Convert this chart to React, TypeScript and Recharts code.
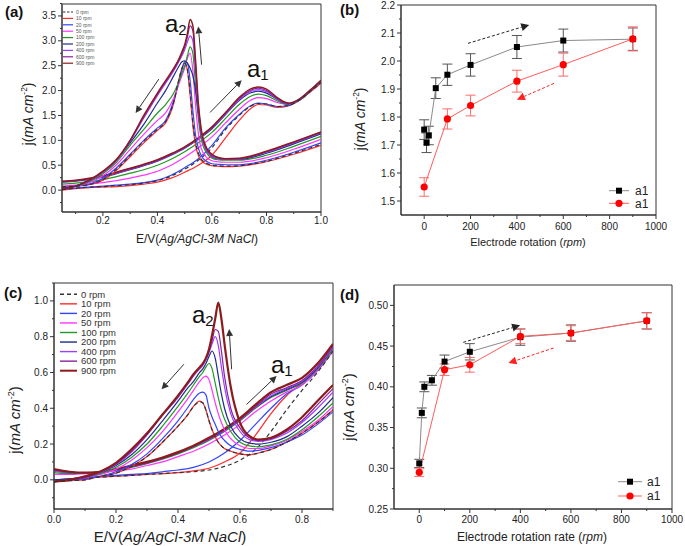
import React from 'react';
import { LineChart, Line, XAxis, YAxis, ReferenceLine, ReferenceArea, ErrorBar } from 'recharts';

const FONT = '"Liberation Sans", Arial, sans-serif';
const AXIS = '#333';
const TXT = '#222';

// series labels / colours shared by (a) and (c)
const RPM_LABELS = ['0 rpm', '10 rpm', '20 rpm', '50 rpm', '100 rpm', '200 rpm', '400 rpm', '600 rpm', '900 rpm'];
const RPM_COLORS = ['#333333', '#ff2a2a', '#3344ff', '#ff33ff', '#229922', '#1d2b8f', '#9b40ff', '#8c1f9c', '#8b1c1c'];

// (a) forward scan
const A_FWD_X = [0.05, 0.1, 0.15, 0.2, 0.25, 0.3, 0.35, 0.4, 0.45, 0.5, 0.55, 0.6, 0.65, 0.7, 0.74, 0.77, 0.8, 0.84, 0.88, 0.92, 0.96, 1.0];
const A_FWD_Y = [
  [0.01, 0.04, 0.06, 0.07, 0.09, 0.11, 0.14, 0.19, 0.28, 0.42, 0.6, 0.85, 1.22, 1.5, 1.68, 1.74, 1.73, 1.68, 1.7, 1.81, 1.98, 2.16],
  [0.0, 0.03, 0.05, 0.06, 0.07, 0.09, 0.12, 0.16, 0.24, 0.36, 0.5, 0.7, 1.05, 1.4, 1.63, 1.72, 1.71, 1.66, 1.69, 1.8, 1.97, 2.15],
  [0.02, 0.04, 0.06, 0.08, 0.1, 0.12, 0.15, 0.2, 0.3, 0.45, 0.63, 0.9, 1.25, 1.52, 1.69, 1.75, 1.73, 1.68, 1.7, 1.82, 1.99, 2.17],
  [0.08, 0.1, 0.12, 0.15, 0.19, 0.24, 0.3, 0.38, 0.5, 0.66, 0.85, 1.07, 1.35, 1.62, 1.8, 1.86, 1.84, 1.76, 1.72, 1.8, 1.98, 2.17],
  [0.12, 0.14, 0.17, 0.21, 0.27, 0.34, 0.41, 0.5, 0.62, 0.77, 0.95, 1.16, 1.44, 1.72, 1.88, 1.93, 1.9, 1.79, 1.72, 1.8, 1.98, 2.18],
  [0.16, 0.18, 0.21, 0.26, 0.33, 0.41, 0.49, 0.58, 0.7, 0.84, 1.02, 1.23, 1.52, 1.8, 1.95, 1.99, 1.95, 1.82, 1.73, 1.81, 1.99, 2.19],
  [0.16, 0.19, 0.22, 0.27, 0.34, 0.42, 0.5, 0.59, 0.71, 0.85, 1.03, 1.25, 1.53, 1.82, 1.98, 2.02, 1.98, 1.83, 1.73, 1.81, 1.99, 2.19],
  [0.17, 0.19, 0.23, 0.28, 0.35, 0.43, 0.51, 0.6, 0.72, 0.86, 1.04, 1.26, 1.55, 1.84, 2.0, 2.05, 2.0, 1.84, 1.74, 1.82, 2.0, 2.2],
  [0.18, 0.2, 0.24, 0.29, 0.36, 0.44, 0.52, 0.61, 0.73, 0.87, 1.05, 1.27, 1.56, 1.86, 2.03, 2.07, 2.03, 1.86, 1.75, 1.83, 2.01, 2.21],
];
// (a) reverse scan (stored with ascending potential)
const A_REV_X = [0.05, 0.1, 0.15, 0.2, 0.25, 0.3, 0.35, 0.4, 0.43, 0.46, 0.48, 0.49, 0.5, 0.51, 0.52, 0.53, 0.54, 0.55, 0.56, 0.58, 0.6, 0.62, 0.65, 0.7, 0.8, 0.9, 1.0];
const A_REV_Y = [
  [0.07, 0.08, 0.11, 0.21, 0.42, 0.7, 0.98, 1.22, 1.38, 1.78, 2.25, 2.45, 2.55, 2.42, 1.95, 1.35, 0.95, 0.75, 0.63, 0.54, 0.5, 0.49, 0.48, 0.49, 0.58, 0.74, 0.92],
  [0.07, 0.08, 0.11, 0.2, 0.4, 0.67, 0.95, 1.2, 1.35, 1.75, 2.25, 2.45, 2.55, 2.4, 1.9, 1.3, 0.9, 0.7, 0.6, 0.52, 0.49, 0.48, 0.47, 0.48, 0.57, 0.72, 0.9],
  [0.06, 0.08, 0.12, 0.24, 0.45, 0.72, 1.0, 1.25, 1.4, 1.8, 2.2, 2.42, 2.58, 2.55, 2.2, 1.6, 1.1, 0.85, 0.7, 0.58, 0.53, 0.52, 0.51, 0.51, 0.6, 0.76, 0.95],
  [0.05, 0.08, 0.15, 0.29, 0.51, 0.82, 1.12, 1.4, 1.55, 1.85, 2.15, 2.3, 2.45, 2.65, 2.75, 2.4, 1.7, 1.15, 0.85, 0.66, 0.59, 0.57, 0.56, 0.56, 0.65, 0.82, 1.02],
  [0.04, 0.08, 0.17, 0.33, 0.56, 0.9, 1.22, 1.55, 1.72, 1.95, 2.2, 2.35, 2.5, 2.7, 2.88, 2.75, 2.1, 1.45, 1.05, 0.75, 0.64, 0.61, 0.6, 0.6, 0.7, 0.88, 1.08],
  [0.03, 0.08, 0.19, 0.36, 0.6, 0.95, 1.32, 1.75, 2.0, 2.3, 2.5, 2.58, 2.6, 2.55, 2.45, 2.3, 2.0, 1.55, 1.15, 0.8, 0.67, 0.63, 0.62, 0.62, 0.74, 0.93, 1.13],
  [0.03, 0.08, 0.19, 0.36, 0.6, 0.98, 1.45, 1.9, 2.15, 2.4, 2.6, 2.7, 2.82, 2.98, 3.1, 3.0, 2.35, 1.6, 1.15, 0.8, 0.68, 0.64, 0.62, 0.63, 0.76, 0.95, 1.15],
  [0.03, 0.08, 0.2, 0.37, 0.61, 1.0, 1.48, 1.93, 2.18, 2.43, 2.62, 2.74, 2.88, 3.08, 3.3, 3.2, 2.5, 1.7, 1.2, 0.83, 0.7, 0.65, 0.63, 0.63, 0.77, 0.96, 1.16],
  [0.03, 0.08, 0.2, 0.38, 0.62, 1.0, 1.5, 1.95, 2.2, 2.45, 2.65, 2.78, 2.92, 3.15, 3.43, 3.3, 2.6, 1.75, 1.25, 0.85, 0.72, 0.66, 0.63, 0.64, 0.78, 0.97, 1.17],
];

// (c) forward scan
const C_FWD_X = [0, 0.05, 0.1, 0.15, 0.2, 0.25, 0.3, 0.35, 0.4, 0.45, 0.5, 0.55, 0.6, 0.65, 0.7, 0.75, 0.8, 0.85, 0.9];
const C_FWD_Y = [
  [-0.01, 0.0, 0.01, 0.015, 0.02, 0.025, 0.03, 0.035, 0.04, 0.045, 0.055, 0.075, 0.11, 0.17, 0.27, 0.39, 0.5, 0.6, 0.72],
  [-0.01, 0.0, 0.01, 0.015, 0.02, 0.025, 0.03, 0.035, 0.04, 0.05, 0.065, 0.1, 0.15, 0.25, 0.37, 0.47, 0.54, 0.62, 0.73],
  [-0.005, 0.005, 0.012, 0.02, 0.025, 0.03, 0.035, 0.045, 0.055, 0.07, 0.1, 0.15, 0.22, 0.31, 0.4, 0.48, 0.53, 0.61, 0.72],
  [0.03, 0.03, 0.035, 0.04, 0.05, 0.06, 0.08, 0.1, 0.13, 0.16, 0.2, 0.25, 0.31, 0.38, 0.44, 0.49, 0.53, 0.61, 0.72],
  [0.04, 0.035, 0.04, 0.045, 0.055, 0.07, 0.09, 0.115, 0.145, 0.18, 0.22, 0.27, 0.33, 0.4, 0.46, 0.5, 0.54, 0.62, 0.73],
  [0.05, 0.04, 0.04, 0.045, 0.06, 0.075, 0.095, 0.12, 0.15, 0.185, 0.225, 0.275, 0.335, 0.405, 0.465, 0.505, 0.545, 0.625, 0.74],
  [0.05, 0.04, 0.04, 0.045, 0.06, 0.075, 0.095, 0.12, 0.15, 0.185, 0.225, 0.275, 0.335, 0.405, 0.47, 0.51, 0.55, 0.63, 0.74],
  [0.055, 0.045, 0.04, 0.045, 0.06, 0.075, 0.095, 0.12, 0.15, 0.19, 0.23, 0.28, 0.34, 0.41, 0.48, 0.515, 0.555, 0.635, 0.75],
  [0.06, 0.045, 0.04, 0.045, 0.06, 0.08, 0.1, 0.125, 0.155, 0.19, 0.235, 0.285, 0.345, 0.42, 0.49, 0.53, 0.57, 0.65, 0.76],
];
// (c) reverse scan
const C_REV_X = [0, 0.05, 0.1, 0.15, 0.2, 0.25, 0.3, 0.35, 0.4, 0.43, 0.45, 0.47, 0.48, 0.49, 0.5, 0.51, 0.52, 0.53, 0.54, 0.55, 0.57, 0.6, 0.63, 0.66, 0.7, 0.75, 0.8, 0.85, 0.9];
const C_REV_Y = [
  [-0.01, -0.005, 0.0, 0.02, 0.038, 0.075, 0.13, 0.21, 0.3, 0.36, 0.41, 0.435, 0.43, 0.39, 0.33, 0.28, 0.24, 0.21, 0.19, 0.175, 0.16, 0.145, 0.14, 0.15, 0.17, 0.21, 0.26, 0.32, 0.39],
  [-0.01, -0.005, 0.0, 0.02, 0.037, 0.075, 0.13, 0.21, 0.3, 0.36, 0.41, 0.44, 0.43, 0.39, 0.33, 0.28, 0.24, 0.21, 0.19, 0.175, 0.16, 0.145, 0.14, 0.15, 0.17, 0.21, 0.26, 0.32, 0.39],
  [-0.005, 0.0, 0.005, 0.02, 0.045, 0.085, 0.145, 0.23, 0.33, 0.4, 0.45, 0.485, 0.49, 0.475, 0.4, 0.35, 0.31, 0.27, 0.24, 0.22, 0.19, 0.17, 0.16, 0.165, 0.18, 0.21, 0.25, 0.31, 0.38],
  [0.0, 0.005, 0.012, 0.03, 0.06, 0.11, 0.18, 0.27, 0.38, 0.45, 0.5, 0.55, 0.57, 0.58, 0.56, 0.5, 0.43, 0.37, 0.32, 0.28, 0.23, 0.19, 0.175, 0.175, 0.19, 0.22, 0.27, 0.33, 0.41],
  [0.0, 0.005, 0.015, 0.035, 0.07, 0.125, 0.2, 0.3, 0.41, 0.48, 0.53, 0.58, 0.6, 0.63, 0.65, 0.62, 0.54, 0.46, 0.39, 0.34, 0.27, 0.21, 0.19, 0.185, 0.195, 0.225, 0.28, 0.35, 0.43],
  [0.0, 0.005, 0.015, 0.04, 0.08, 0.14, 0.225, 0.33, 0.44, 0.51, 0.55, 0.6, 0.62, 0.65, 0.69, 0.72, 0.68, 0.58, 0.48, 0.4, 0.3, 0.23, 0.205, 0.2, 0.21, 0.24, 0.3, 0.37, 0.46],
  [-0.005, 0.0, 0.015, 0.04, 0.085, 0.155, 0.25, 0.36, 0.46, 0.53, 0.58, 0.62, 0.64, 0.67, 0.71, 0.76, 0.8, 0.75, 0.63, 0.52, 0.37, 0.27, 0.225, 0.215, 0.225, 0.26, 0.32, 0.4, 0.49],
  [-0.01, 0.0, 0.015, 0.045, 0.09, 0.16, 0.255, 0.365, 0.47, 0.54, 0.59, 0.63, 0.65, 0.68, 0.72, 0.78, 0.84, 0.83, 0.72, 0.58, 0.4, 0.29, 0.235, 0.22, 0.23, 0.27, 0.33, 0.42, 0.51],
  [-0.01, 0.0, 0.02, 0.047, 0.095, 0.17, 0.26, 0.365, 0.47, 0.54, 0.59, 0.63, 0.65, 0.68, 0.73, 0.81, 0.9, 0.99, 0.9, 0.76, 0.52, 0.32, 0.245, 0.225, 0.235, 0.28, 0.35, 0.44, 0.53],
];

// (b) peak current vs rotation
const B_BLACK_X = [0, 10, 20, 50, 100, 200, 400, 600, 900];
const B_BLACK_Y = [1.755, 1.708, 1.734, 1.903, 1.951, 1.986, 2.05, 2.073, 2.078];
const B_BLACK_ERR = [0.035, 0.035, 0.033, 0.037, 0.038, 0.04, 0.041, 0.041, 0.04];
const B_RED_X = [0, 100, 200, 400, 600, 900];
const B_RED_Y = [1.55, 1.793, 1.841, 1.928, 1.987, 2.079];
const B_RED_ERR = [0.033, 0.036, 0.037, 0.039, 0.041, 0.043];

// (d) peak current vs rotation rate
const D_BLACK_X = [0, 10, 20, 50, 100, 200, 400, 600, 900];
const D_BLACK_Y = [0.306, 0.368, 0.4, 0.408, 0.431, 0.443, 0.461, 0.466, 0.481];
const D_BLACK_ERR = [0.005, 0.006, 0.006, 0.006, 0.008, 0.01, 0.01, 0.01, 0.01];
const D_RED_X = [0, 100, 200, 400, 600, 900];
const D_RED_Y = [0.295, 0.421, 0.427, 0.462, 0.466, 0.481];
const D_RED_ERR = [0.005, 0.007, 0.009, 0.009, 0.009, 0.01];

// annotation arrows, in data units
const A_ARROWS = [[[0.405, 2.23], [0.32, 1.55]], [[0.562, 2.52], [0.55, 3.29]], [[0.593, 1.56], [0.709, 2.21]]];
const C_ARROWS = [[[0.419, 0.646], [0.347, 0.506]], [[0.573, 0.618], [0.565, 0.843]], [[0.621, 0.421], [0.718, 0.58]]];
const B_ARROWS = [[[189, 2.063], [453, 2.129]], [[560, 1.92], [400, 1.862]]];
const D_ARROWS = [[[174, 0.4546], [399, 0.4755]], [[531, 0.4476], [353, 0.4292]]];

const range = (a: number, b: number, s: number) => {
  const out: number[] = [];
  for (let v = a; v <= b + 1e-9; v += s) out.push(Math.round(v * 1000) / 1000);
  return out;
};

const toPts = (xs: number[], ys: number[], errs?: number[]) =>
  xs.map((x, i) => ({ x, y: ys[i], err: errs ? errs[i] : 0 }));

const isMajor = (majors: number[], v: number) => majors.some((m) => Math.abs(m - v) < 1e-6);

const xTick = (majors: number[], fmt: (v: number) => string, dy: number) => (p: any) => {
  const v = p.payload.value;
  const mj = isMajor(majors, v);
  return (
    <g>
      <line x1={p.x} x2={p.x} y1={p.y} y2={p.y + (mj ? 4 : 2)} stroke={AXIS} />
      {mj && (
        <text x={p.x} y={p.y + dy} textAnchor="middle" fontSize={10} fill={TXT} fontFamily={FONT}>
          {fmt(v)}
        </text>
      )}
    </g>
  );
};

const yTick = (majors: number[], fmt: (v: number) => string) => (p: any) => {
  const v = p.payload.value;
  const mj = isMajor(majors, v);
  return (
    <g>
      <line x1={p.x} x2={p.x - (mj ? 4 : 2)} y1={p.y} y2={p.y} stroke={AXIS} />
      {mj && (
        <text x={p.x - 6} y={p.y + 3.5} textAnchor="end" fontSize={10} fill={TXT} fontFamily={FONT}>
          {fmt(v)}
        </text>
      )}
    </g>
  );
};

const arrowShape = (color: string, dash?: string, head = 6) => (p: any) => {
  const { x1, y1, x2, y2 } = p;
  const a = Math.atan2(y2 - y1, x2 - x1);
  const bx = x2 - head * Math.cos(a);
  const by = y2 - head * Math.sin(a);
  const w = head * 0.5;
  const nx = -Math.sin(a) * w;
  const ny = Math.cos(a) * w;
  return (
    <g>
      <line x1={x1} y1={y1} x2={bx} y2={by} stroke={color} strokeWidth={1} strokeDasharray={dash} />
      <polygon points={`${x2},${y2} ${bx + nx},${by + ny} ${bx - nx},${by - ny}`} fill={color} />
    </g>
  );
};

interface CvProps {
  width: number;
  height: number;
  margin: { top: number; right: number; bottom: number; left: number };
  yWidth: number;
  xDomain: [number, number];
  yDomain: [number, number];
  xMajors: number[];
  xMinors: number[];
  yMajors: number[];
  yMinors: number[];
  fwdX: number[];
  fwdY: number[][];
  revX: number[];
  revY: number[][];
  arrows: number[][][];
  tickDy: number;
  thick: number;
}

const CvChart = (p: CvProps) => {
  const order = [1, 2, 3, 4, 5, 6, 7, 8, 0];
  return (
    <LineChart width={p.width} height={p.height} margin={p.margin}>
      <XAxis
        type="number"
        dataKey="x"
        domain={p.xDomain}
        allowDataOverflow
        ticks={[...p.xMajors, ...p.xMinors].sort((a, b) => a - b)}
        interval={0}
        tick={xTick(p.xMajors, (v) => v.toFixed(1), p.tickDy)}
        tickLine={false}
        tickSize={0}
        tickMargin={0}
        height={20}
        stroke={AXIS}
      />
      <YAxis
        type="number"
        dataKey="y"
        domain={p.yDomain}
        allowDataOverflow
        ticks={[...p.yMajors, ...p.yMinors].sort((a, b) => a - b)}
        interval={0}
        tick={yTick(p.yMajors, (v) => v.toFixed(1))}
        tickLine={false}
        tickSize={0}
        tickMargin={0}
        width={p.yWidth}
        stroke={AXIS}
      />
      {order.map((i) => (
        <Line
          key={'f' + i}
          data={toPts(p.fwdX, p.fwdY[i])}
          dataKey="y"
          type="monotone"
          stroke={RPM_COLORS[i]}
          strokeWidth={i === 8 ? p.thick : 1.2}
          strokeDasharray={i === 0 ? '4 3' : undefined}
          dot={false}
          isAnimationActive={false}
        />
      ))}
      {order.map((i) => (
        <Line
          key={'r' + i}
          data={toPts(p.revX, p.revY[i])}
          dataKey="y"
          type="monotone"
          stroke={RPM_COLORS[i]}
          strokeWidth={i === 8 ? p.thick : 1.2}
          strokeDasharray={i === 0 ? '4 3' : undefined}
          dot={false}
          isAnimationActive={false}
        />
      ))}
      {p.arrows.map((a, k) => (
        <ReferenceLine
          key={'ar' + k}
          segment={[{ x: a[0][0], y: a[0][1] }, { x: a[1][0], y: a[1][1] }]}
          shape={arrowShape('#333', undefined, 7)}
          ifOverflow="visible"
        />
      ))}
      <ReferenceArea
        x1={p.xDomain[0]}
        x2={p.xDomain[1]}
        y1={p.yDomain[0]}
        y2={p.yDomain[1]}
        fill="none"
        stroke={AXIS}
        strokeWidth={1}
        ifOverflow="visible"
      />
    </LineChart>
  );
};

interface RateProps {
  width: number;
  height: number;
  margin: { top: number; right: number; bottom: number; left: number };
  yWidth: number;
  yDomain: [number, number];
  yMajors: number[];
  yMinors: number[];
  yFmt: (v: number) => string;
  blackX: number[];
  blackY: number[];
  blackErr: number[];
  redX: number[];
  redY: number[];
  redErr: number[];
  arrows: number[][][];
  tickDy: number;
}

const squareDot = (props: any) => (
  <rect key={'s' + props.index} x={props.cx - 3} y={props.cy - 3} width={6} height={6} fill="#000" />
);
const circleDot = (props: any) => (
  <circle key={'c' + props.index} cx={props.cx} cy={props.cy} r={3.6} fill="#ff0000" />
);

const RateChart = (p: RateProps) => (
  <LineChart width={p.width} height={p.height} margin={p.margin}>
    <XAxis
      type="number"
      dataKey="x"
      domain={[-100, 1000]}
      allowDataOverflow
      ticks={range(0, 1000, 100)}
      interval={0}
      tick={xTick(range(0, 1000, 200), (v) => String(v), p.tickDy)}
      tickLine={false}
      tickSize={0}
      tickMargin={0}
      height={20}
      stroke={AXIS}
    />
    <YAxis
      type="number"
      dataKey="y"
      domain={p.yDomain}
      allowDataOverflow
      ticks={[...p.yMajors, ...p.yMinors].sort((a, b) => a - b)}
      interval={0}
      tick={yTick(p.yMajors, p.yFmt)}
      tickLine={false}
      tickSize={0}
      tickMargin={0}
      width={p.yWidth}
      stroke={AXIS}
    />
    <Line
      data={toPts(p.blackX, p.blackY, p.blackErr)}
      dataKey="y"
      type="linear"
      stroke="#8a8a8a"
      strokeWidth={1}
      dot={squareDot}
      isAnimationActive={false}
    >
      <ErrorBar dataKey="err" direction="y" width={5} stroke="#555" strokeWidth={1} />
    </Line>
    <Line
      data={toPts(p.redX, p.redY, p.redErr)}
      dataKey="y"
      type="linear"
      stroke="#ff5c5c"
      strokeWidth={1}
      dot={circleDot}
      isAnimationActive={false}
    >
      <ErrorBar dataKey="err" direction="y" width={5} stroke="#ff6b6b" strokeWidth={1} />
    </Line>
    <ReferenceLine
      segment={[{ x: p.arrows[0][0][0], y: p.arrows[0][0][1] }, { x: p.arrows[0][1][0], y: p.arrows[0][1][1] }]}
      shape={arrowShape('#222', '3 2', 8)}
      ifOverflow="visible"
    />
    <ReferenceLine
      segment={[{ x: p.arrows[1][0][0], y: p.arrows[1][0][1] }, { x: p.arrows[1][1][0], y: p.arrows[1][1][1] }]}
      shape={arrowShape('#ff2020', '3 2', 8)}
      ifOverflow="visible"
    />
    <ReferenceArea
      x1={-100}
      x2={1000}
      y1={p.yDomain[0]}
      y2={p.yDomain[1]}
      fill="none"
      stroke={AXIS}
      strokeWidth={1}
      ifOverflow="visible"
    />
  </LineChart>
);

const YTitle = ({ cx, cy, fs }: { cx: number; cy: number; fs: number }) => (
  <text transform={`translate(${cx},${cy}) rotate(-90)`} textAnchor="middle" fontSize={fs} fill={TXT} dy={fs * 0.35}>
    j(<tspan fontStyle="italic">mA cm</tspan>
    <tspan dy={-fs * 0.4} fontSize={fs * 0.6}>-2</tspan>
    <tspan dy={fs * 0.4}>)</tspan>
  </text>
);

const PeakLabel = ({ x, y, sub }: { x: number; y: number; sub: string }) => (
  <text x={x} y={y} fontSize={24} fill="#111">
    a<tspan dy={3} fontSize={15}>{sub}</tspan>
  </text>
);

const Overlay = () => (
  <svg
    width={685}
    height={546}
    style={{ position: 'absolute', left: 0, top: 0, pointerEvents: 'none' }}
    fontFamily={FONT}
  >
    {/* panel letters */}
    <text x={5} y={17} fontSize={15} fontWeight="bold" fill="#111">(a)</text>
    <text x={340} y={15} fontSize={15} fontWeight="bold" fill="#111">(b)</text>
    <text x={4} y={298} fontSize={15} fontWeight="bold" fill="#111">(c)</text>
    <text x={340} y={300} fontSize={15} fontWeight="bold" fill="#111">(d)</text>

    {/* axis titles */}
    <text x={197} y={243} textAnchor="middle" fontSize={12} fill={TXT}>
      E/V(<tspan fontStyle="italic">Ag/AgCl-3M NaCl</tspan>)
    </text>
    <YTitle cx={28} cy={114} fs={14} />
    <text x={528} y={246} textAnchor="middle" fontSize={11} fill={TXT}>
      Electrode rotation (<tspan fontStyle="italic">rpm</tspan>)
    </text>
    <YTitle cx={360} cy={119} fs={14} />
    <text x={170} y={542} textAnchor="middle" fontSize={15} fill={TXT}>
      E/V(<tspan fontStyle="italic">Ag/AgCl-3M NaCl</tspan>)
    </text>
    <YTitle cx={15} cy={420} fs={15} />
    <text x={532} y={541} textAnchor="middle" fontSize={12} fill={TXT}>
      Electrode rotation rate (<tspan fontStyle="italic">rpm</tspan>)
    </text>
    <YTitle cx={349} cy={407} fs={15} />

    {/* peak labels */}
    <PeakLabel x={165} y={32} sub="2" />
    <PeakLabel x={247} y={77} sub="1" />
    <PeakLabel x={192} y={323} sub="2" />
    <PeakLabel x={271} y={373} sub="1" />

    {/* legend (a) */}
    {RPM_LABELS.map((l, i) => (
      <g key={'la' + i}>
        <line x1={63} x2={73} y1={12 + i * 6.4} y2={12 + i * 6.4} stroke={RPM_COLORS[i]} strokeWidth={1.2} strokeDasharray={i === 0 ? '2.5 1.5' : undefined} />
        <text x={76} y={12 + i * 6.4 + 1.8} fontSize={5} fill="#555">{l}</text>
      </g>
    ))}
    {/* legend (c) */}
    {RPM_LABELS.map((l, i) => (
      <g key={'lc' + i}>
        <line x1={60} x2={77} y1={294.3 + i * 9.55} y2={294.3 + i * 9.55} stroke={RPM_COLORS[i]} strokeWidth={i === 8 ? 2 : 1.4} strokeDasharray={i === 0 ? '4 3' : undefined} />
        <text x={81} y={294.3 + i * 9.55 + 3.3} fontSize={9.5} fill="#333">{l}</text>
      </g>
    ))}
    {/* legend (b) */}
    <line x1={609} x2={629} y1={190.7} y2={190.7} stroke="#8a8a8a" />
    <rect x={616} y={187.7} width={6} height={6} fill="#000" />
    <text x={635} y={195} fontSize={12} fill={TXT}>a1</text>
    <line x1={609} x2={629} y1={203.3} y2={203.3} stroke="#ff5c5c" />
    <circle cx={619} cy={203.3} r={3.6} fill="#ff0000" />
    <text x={635} y={207.6} fontSize={12} fill={TXT}>a1</text>
    {/* legend (d) */}
    <line x1={618} x2={642} y1={481.7} y2={481.7} stroke="#8a8a8a" />
    <rect x={627} y={478.7} width={6} height={6} fill="#000" />
    <text x={647} y={486} fontSize={12} fill={TXT}>a1</text>
    <line x1={618} x2={642} y1={496} y2={496} stroke="#ff5c5c" />
    <circle cx={630} cy={496} r={3.6} fill="#ff0000" />
    <text x={647} y={500.3} fontSize={12} fill={TXT}>a1</text>
  </svg>
);

export default function App() {
  return (
    <div style={{ position: 'absolute', left: 0, top: 0, width: 685, height: 546, background: '#fff', fontFamily: FONT }}>
      <div style={{ position: 'absolute', left: 0, top: 0 }}>
        <CvChart
          width={340}
          height={280}
          margin={{ top: 4, right: 19, bottom: 48, left: 0 }}
          yWidth={62}
          xDomain={[0.05, 1.0]}
          yDomain={[-0.44, 3.74]}
          xMajors={[0.2, 0.4, 0.6, 0.8, 1.0]}
          xMinors={[0.1, 0.3, 0.5, 0.7, 0.9]}
          yMajors={range(0, 3.5, 0.5)}
          yMinors={range(-0.25, 3.75, 0.5)}
          fwdX={A_FWD_X}
          fwdY={A_FWD_Y}
          revX={A_REV_X}
          revY={A_REV_Y}
          arrows={A_ARROWS}
          tickDy={12}
          thick={1.5}
        />
      </div>
      <div style={{ position: 'absolute', left: 340, top: 0 }}>
        <RateChart
          width={345}
          height={280}
          margin={{ top: 5, right: 29, bottom: 45, left: 0 }}
          yWidth={61}
          yDomain={[1.45, 2.2]}
          yMajors={range(1.5, 2.2, 0.1)}
          yMinors={range(1.55, 2.15, 0.1)}
          yFmt={(v) => v.toFixed(1)}
          blackX={B_BLACK_X}
          blackY={B_BLACK_Y}
          blackErr={B_BLACK_ERR}
          redX={B_RED_X}
          redY={B_RED_Y}
          redErr={B_RED_ERR}
          arrows={B_ARROWS}
          tickDy={14.5}
        />
      </div>
      <div style={{ position: 'absolute', left: 0, top: 280 }}>
        <CvChart
          width={340}
          height={266}
          margin={{ top: 3, right: 7, bottom: 17, left: 0 }}
          yWidth={54}
          xDomain={[0, 0.9]}
          yDomain={[-0.163, 1.1]}
          xMajors={[0, 0.2, 0.4, 0.6, 0.8]}
          xMinors={[0.1, 0.3, 0.5, 0.7, 0.9]}
          yMajors={range(0, 1.0, 0.2)}
          yMinors={range(-0.1, 1.1, 0.2)}
          fwdX={C_FWD_X}
          fwdY={C_FWD_Y}
          revX={C_REV_X}
          revY={C_REV_Y}
          arrows={C_ARROWS}
          tickDy={14}
          thick={2.2}
        />
      </div>
      <div style={{ position: 'absolute', left: 340, top: 280 }}>
        <RateChart
          width={345}
          height={266}
          margin={{ top: 5, right: 13, bottom: 17, left: 0 }}
          yWidth={54}
          yDomain={[0.25, 0.525]}
          yMajors={range(0.25, 0.5, 0.05)}
          yMinors={range(0.275, 0.475, 0.05)}
          yFmt={(v) => v.toFixed(2)}
          blackX={D_BLACK_X}
          blackY={D_BLACK_Y}
          blackErr={D_BLACK_ERR}
          redX={D_RED_X}
          redY={D_RED_Y}
          redErr={D_RED_ERR}
          arrows={D_ARROWS}
          tickDy={14}
        />
      </div>
      <Overlay />
    </div>
  );
}
